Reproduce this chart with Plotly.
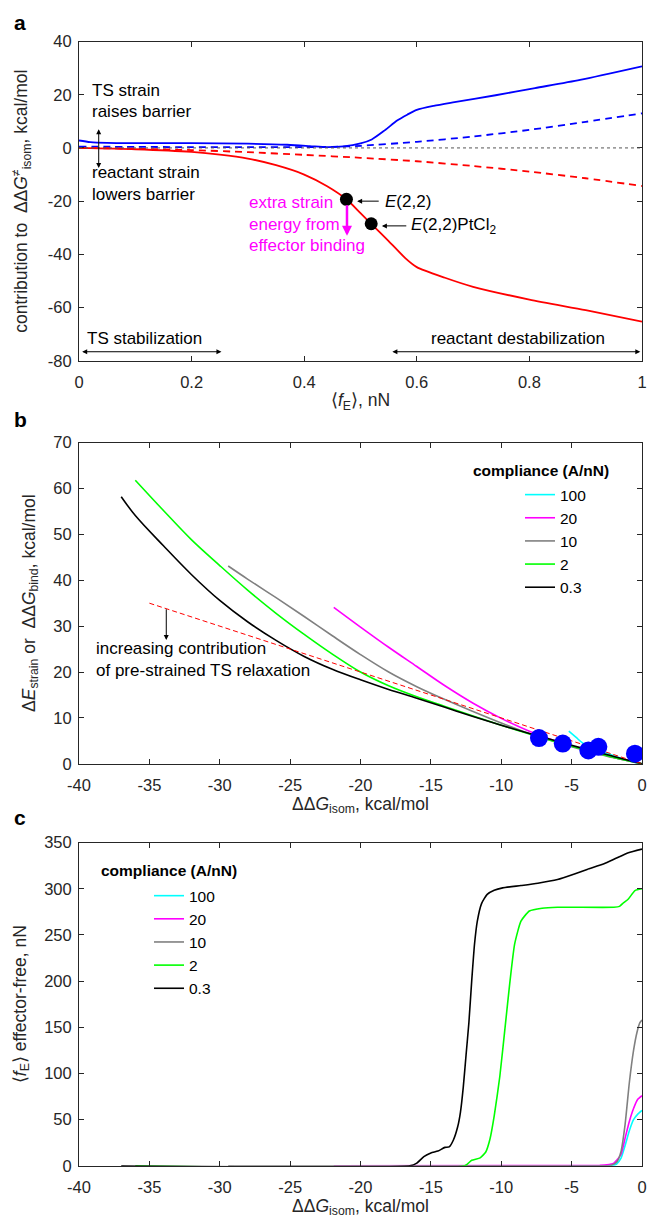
import plotly.graph_objects as go

# ---------------- Panel a data ----------------
a_ts_x = [0, 0.02, 0.05, 0.1, 0.2, 0.3, 0.37, 0.41, 0.44, 0.47, 0.5, 0.52, 0.543, 0.565, 0.583, 0.6, 0.63, 0.667, 0.74, 0.81, 0.89, 1.0]
a_ts_y = [2.8, 2.2, 1.9, 1.8, 1.8, 1.6, 1.2, 0.7, 0.3, 0.6, 1.7, 3.2, 6.6, 10.3, 12.5, 14.3, 15.8, 17.2, 19.8, 22.5, 25.6, 30.7]
a_tsd_x = [0, 0.1, 0.2, 0.3, 0.4, 0.45, 0.5, 0.6, 0.7, 0.8, 0.9, 1.0]
a_tsd_y = [0.5, 0.4, 0.3, 0.3, 0.3, 0.4, 0.8, 2.3, 4.3, 6.8, 9.8, 13.0]
a_re_x = [0, 0.1, 0.2, 0.25, 0.3, 0.35, 0.4, 0.44, 0.475, 0.5, 0.519, 0.55, 0.58, 0.6, 0.65, 0.7, 0.8, 0.9, 1.0]
a_re_y = [0, -0.5, -1.5, -2.5, -4, -6.5, -10, -14.3, -19.3, -24.5, -28.5, -35, -41.5, -44.8, -48.8, -52.2, -57, -61, -65.3]
a_red_x = [0, 0.1, 0.2, 0.3, 0.4, 0.5, 0.6, 0.7, 0.8, 0.9, 1.0]
a_red_y = [0, -0.3, -0.8, -1.6, -2.6, -3.7, -5.0, -6.8, -8.9, -11.4, -14.3]
a_pts_x = [0.475, 0.519]
a_pts_y = [-19.3, -28.5]
a_pts_labels = ["<i>E</i>(2,2)", "<i>E</i>(2,2)PtCl<sub>2</sub>"]

# ---------------- Panel b data ----------------
compliance = ["100", "20", "10", "2", "0.3"]
colors = ["#00FFFF", "#FF00FF", "#808080", "#00FF00", "#000000"]
b_x = {
    "100": [-5.2, -4.7, -4.2, -3.5, -2.5, -1.5, -0.5, 0],
    "20": [-21.9, -20, -18, -16, -14, -12, -10, -8, -6, -4, -2, 0],
    "10": [-29.4, -28, -26, -24, -22, -20, -18, -16, -14, -12, -10, -8, -6, -4, -2, 0],
    "2": [-36, -34, -32, -30, -28, -26, -24, -22, -20, -18, -16, -14, -12, -10, -8, -6, -4, -2, 0],
    "0.3": [-37, -36, -34, -32, -30, -28, -26, -24, -22, -20, -18, -16, -14, -12, -10, -8, -6, -4, -2, 0],
}
b_y = {
    "100": [7.1, 5.8, 4.5, 3.5, 2.3, 1.2, 0.3, 0],
    "20": [34.1, 29.8, 25.4, 21.2, 17.0, 13.2, 9.9, 7.1, 4.8, 3.0, 1.4, 0],
    "10": [43.1, 40.2, 36.2, 32.1, 27.9, 23.8, 20.0, 16.8, 14.0, 11.4, 8.9, 6.6, 4.6, 2.9, 1.3, 0],
    "2": [61.8, 55.2, 48.8, 43.2, 37.8, 32.8, 28.2, 23.9, 20.0, 17.0, 14.6, 12.5, 10.4, 8.4, 6.5, 4.7, 3.0, 1.4, 0],
    "0.3": [58.2, 54.1, 47.5, 41.2, 35.6, 30.9, 26.9, 23.4, 20.6, 18.3, 16.2, 14.3, 12.3, 10.3, 8.4, 6.6, 4.9, 3.2, 1.6, 0],
}
b_ref_x = [-35, 0]
b_ref_y = [35, 0]
b_pts_x = [-7.32, -5.63, -3.81, -3.10, -0.50]
b_pts_y = [5.6, 4.4, 2.9, 3.7, 2.2]

# ---------------- Panel c data ----------------
c_x = {
    "100": [-5.2, -2.2, -1.8, -1.5, -1.2, -0.9, -0.6, -0.3, 0],
    "20": [-21.9, -3, -2.5, -2, -1.5, -1.2, -0.9, -0.6, -0.3, 0],
    "10": [-29.4, -2.5, -2.2, -1.8, -1.5, -1.2, -0.9, -0.6, -0.35, -0.15, 0],
    "2": [-36, -12.6, -12.1, -11.5, -11.1, -10.8, -10.5, -10.1, -9.7, -9.4, -9.05, -8.6, -8.0, -7.1, -6, -2.0, -1.6, -1.3, -0.97, -0.5, 0],
    "0.3": [-37, -16.5, -16, -15.5, -15, -14.5, -14, -13.7, -13.4, -13.1, -12.9, -12.7, -12.5, -12.3, -12.1, -11.9, -11.7, -11.4, -11.0, -10.5, -9.9, -8.6, -7.4, -6, -4.8, -3.9, -2.7, -1.85, -0.97, 0],
}
c_y = {
    "100": [0, 0, 2, 8, 22, 38, 50, 56, 60],
    "20": [0, 0.5, 1, 3, 12, 30, 48, 62, 72, 76],
    "10": [0, 0, 0.5, 4, 15, 45, 90, 125, 145, 155, 158],
    "2": [0, 0, 6, 8.6, 15, 29, 54, 97, 154, 197, 240, 265, 276, 279, 280, 280, 281, 285, 289, 298, 300],
    "0.3": [0, 0, 3, 10, 14, 16, 20, 20.5, 28, 42, 58, 85, 120, 155, 200, 240, 265, 284, 294, 298.5, 301, 303.5, 306, 310, 316, 321, 327, 333, 339, 343],
}

# tick values / labels
a_xticks = [0, 0.2, 0.4, 0.6, 0.8, 1]
a_xticklabels = ["0", "0.2", "0.4", "0.6", "0.8", "1"]
a_yticks = [-80, -60, -40, -20, 0, 20, 40]
a_yticklabels = ["-80", "-60", "-40", "-20", "0", "20", "40"]
bc_xticks = [-40, -35, -30, -25, -20, -15, -10, -5, 0]
bc_xticklabels = ["-40", "-35", "-30", "-25", "-20", "-15", "-10", "-5", "0"]
b_yticks = [0, 10, 20, 30, 40, 50, 60, 70]
c_yticks = [0, 50, 100, 150, 200, 250, 300, 350]

FONT = "Arial, Liberation Sans, sans-serif"
AXC = "#262626"
W, H = 649, 1231
PW = 563  # plot width in px

fig = go.Figure()

# ---- Panel a traces ----
fig.add_trace(go.Scatter(x=a_ts_x, y=a_ts_y, mode="lines", line=dict(color="#0000FF", width=1.8, shape="spline", smoothing=0.7),
                         xaxis="x", yaxis="y", showlegend=False))
fig.add_trace(go.Scatter(x=a_tsd_x, y=a_tsd_y, mode="lines", line=dict(color="#0000FF", width=1.8, dash="7px,5px", shape="spline", smoothing=0.7),
                         xaxis="x", yaxis="y", showlegend=False))
fig.add_trace(go.Scatter(x=a_re_x, y=a_re_y, mode="lines", line=dict(color="#FF0000", width=1.8, shape="spline", smoothing=0.7),
                         xaxis="x", yaxis="y", showlegend=False))
fig.add_trace(go.Scatter(x=a_red_x, y=a_red_y, mode="lines", line=dict(color="#FF0000", width=1.8, dash="7px,5px", shape="spline", smoothing=0.7),
                         xaxis="x", yaxis="y", showlegend=False))
fig.add_trace(go.Scatter(x=a_pts_x, y=a_pts_y, mode="markers", marker=dict(color="black", size=13),
                         xaxis="x", yaxis="y", showlegend=False))

# ---- Panel b traces ----
for comp, col in zip(compliance, colors):
    fig.add_trace(go.Scatter(x=b_x[comp], y=b_y[comp], mode="lines", name=comp,
                             line=dict(color=col, width=1.6, shape="spline", smoothing=1.0),
                             xaxis="x2", yaxis="y2", legend="legend"))
fig.add_trace(go.Scatter(x=b_ref_x, y=b_ref_y, mode="lines", line=dict(color="#FF0000", width=1, dash="5px,3px"),
                         xaxis="x2", yaxis="y2", showlegend=False))
fig.add_trace(go.Scatter(x=b_pts_x, y=b_pts_y, mode="markers", marker=dict(color="#0000FF", size=18),
                         xaxis="x2", yaxis="y2", showlegend=False))

# ---- Panel c traces ----
for comp, col in zip(compliance, colors):
    fig.add_trace(go.Scatter(x=c_x[comp], y=c_y[comp], mode="lines", name=comp,
                             line=dict(color=col, width=1.6, shape="spline", smoothing=0.5),
                             xaxis="x3", yaxis="y3", legend="legend2"))

# domains (paper coords)
dom_a = [1 - 357 / H, 1 - 33 / H]
dom_b = [1 - 766 / H, 1 - 440 / H]
dom_c = [1 - 1174 / H, 1 - 846 / H]

def ax_common(is_x, **kw):
    d = dict(showline=True, linecolor=AXC, linewidth=1, mirror="ticks", ticks="inside", ticklen=5,
             tickcolor=AXC, tickwidth=1, showgrid=False, zeroline=False,
             ticklabelstandoff=(6 if is_x else 3),
             tickfont=dict(family=FONT, size=16.5, color=AXC))
    d.update(kw)
    return d

tfont = dict(family=FONT, size=17.5, color=AXC)

fig.update_layout(
    width=W, height=H, margin=dict(l=79, r=7, t=0, b=0),
    paper_bgcolor="white", plot_bgcolor="white",
    font=dict(family=FONT, size=16, color="black"),
    xaxis=ax_common(True, domain=[0, 1], anchor="y", range=[0, 1], tickvals=a_xticks, ticktext=a_xticklabels,
                    title=dict(text="⟨<i>f</i><sub>E</sub>⟩, nN", font=tfont, standoff=4)),
    yaxis=ax_common(False, domain=dom_a, anchor="x", range=[-80, 40], tickvals=a_yticks, ticktext=a_yticklabels,
                    title=dict(text="contribution to  ΔΔ<i>G</i><sup>≠</sup><sub>isom</sub>, kcal/mol", font=tfont, standoff=15)),
    xaxis2=ax_common(True, domain=[0, 1], anchor="y2", range=[-40, 0], tickvals=bc_xticks, ticktext=bc_xticklabels,
                     title=dict(text="ΔΔ<i>G</i><sub>isom</sub>, kcal/mol", font=tfont, standoff=4)),
    yaxis2=ax_common(False, domain=dom_b, anchor="x2", range=[0, 70], tickvals=b_yticks,
                     title=dict(text="Δ<i>E</i><sub>strain</sub> or  ΔΔ<i>G</i><sub>bind</sub>, kcal/mol", font=tfont, standoff=13)),
    xaxis3=ax_common(True, domain=[0, 1], anchor="y3", range=[-40, 0], tickvals=bc_xticks, ticktext=bc_xticklabels,
                     title=dict(text="ΔΔ<i>G</i><sub>isom</sub>, kcal/mol", font=tfont, standoff=4)),
    yaxis3=ax_common(False, domain=dom_c, anchor="x3", range=[0, 350], tickvals=c_yticks,
                     title=dict(text="⟨<i>f</i><sub>E</sub>⟩ effector-free, nN", font=tfont, standoff=13)),
    legend=dict(x=(520 - 79) / PW, y=1 - 476 / H, xanchor="left", yanchor="top", bgcolor="rgba(0,0,0,0)",
                font=dict(family=FONT, size=15.5, color="black"), tracegroupgap=0, itemwidth=30),
    legend2=dict(x=(149 - 79) / PW, y=1 - 883 / H, xanchor="left", yanchor="top", bgcolor="rgba(0,0,0,0)",
                 font=dict(family=FONT, size=15.5, color="black"), tracegroupgap=0, itemwidth=30),
)

fig.add_hline(y=0, line=dict(color="#555555", width=1, dash="dot"), xref="x", yref="y")

ann = []
def txt(x, y, s, xref="x", yref="y", color="black", size=17, xanchor="left", bold=False):
    ann.append(dict(x=x, y=y, xref=xref, yref=yref, text=(f"<b>{s}</b>" if bold else s), showarrow=False,
                    xanchor=xanchor, yanchor="middle", font=dict(family=FONT, size=size, color=color)))

def arrow(x, y, ax_, ay_, xref="x", yref="y", color="black", width=1, side="end", head=2, size=1):
    ann.append(dict(x=x, y=y, ax=ax_, ay=ay_, xref=xref, yref=yref, axref=xref, ayref=yref, text="",
                    showarrow=True, arrowhead=head, arrowsize=size, arrowwidth=width, arrowcolor=color,
                    arrowside=side, startarrowhead=head, startarrowsize=size))

# panel labels
txt((20 - 79) / PW, 1 - 14 / H, "a", xref="paper", yref="paper", size=21, bold=True, xanchor="center")
txt((20 - 79) / PW, 1 - 417 / H, "b", xref="paper", yref="paper", size=21, bold=True, xanchor="center")
txt((20 - 79) / PW, 1 - 821 / H, "c", xref="paper", yref="paper", size=21, bold=True, xanchor="center")

# panel a annotations
txt(0.02, 21.6, "TS strain")
txt(0.02, 13.6, "raises barrier")
txt(0.02, -9.3, "reactant strain")
txt(0.02, -17.6, "lowers barrier")
arrow(0.035, -7.5, 0.035, 7.6, side="end+start")
txt(0.299, -20.5, "extra strain", color="#FF00FF")
txt(0.299, -28.6, "energy from", color="#FF00FF")
txt(0.299, -36.7, "effector binding", color="#FF00FF")
arrow(0.476, -33, 0.476, -21, color="#FF00FF", width=2.5, head=2, size=0.8)
arrow(0.494, -20, 0.535, -20)
txt(0.540, -20, a_pts_labels[0])
arrow(0.538, -29.3, 0.584, -29.3)
txt(0.586, -29.3, a_pts_labels[1])
txt(0.011, -71.7, "TS stabilization")
arrow(0.253, -76.6, 0.003, -76.6, side="end+start")
txt(0.621, -71.7, "reactant destabilization")
arrow(0.997, -76.6, 0.554, -76.6, side="end+start")

# panel b annotations
txt(-38.97, 25.1, "increasing contribution", xref="x2", yref="y2")
txt(-38.97, 20.4, "of pre-strained TS relaxation", xref="x2", yref="y2")
arrow(-33.8, 27, -33.8, 34, xref="x2", yref="y2")
txt((471 - 79) / PW, 1 - 468 / H, "compliance (A/nN)", xref="paper", yref="paper", bold=True, size=15.5)

# panel c legend title
txt((99 - 79) / PW, 1 - 874 / H, "compliance (A/nN)", xref="paper", yref="paper", bold=True, size=15.5)

fig.update_layout(annotations=ann)
fig.write_html("out.html", config={"displayModeBar": False},
               post_script="document.body.style.margin='0';document.body.style.overflow='hidden';")
